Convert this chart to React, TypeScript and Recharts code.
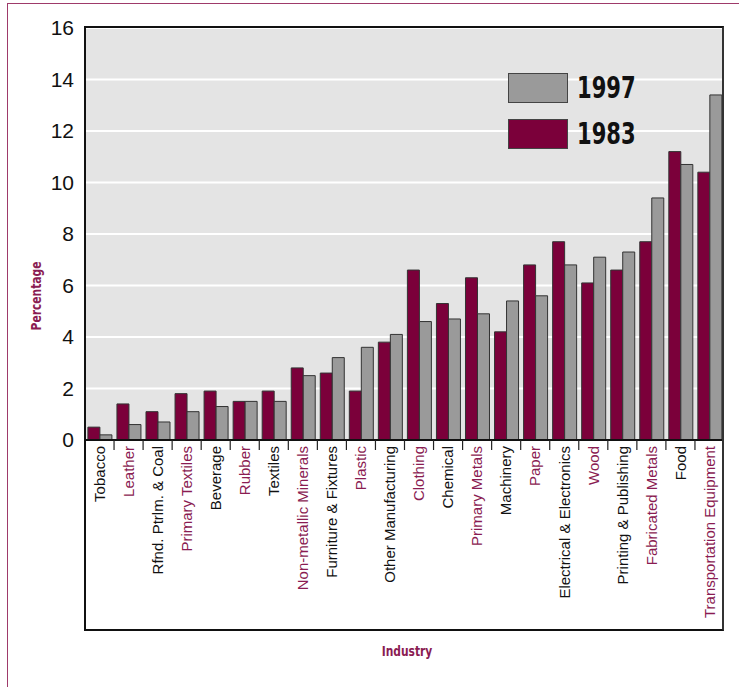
import { BarChart, Bar, XAxis, YAxis, CartesianGrid, Label } from "recharts"

const industries = [
  "Tobacco", "Leather", "Rfnd. Ptrlm. & Coal", "Primary Textiles", "Beverage", "Rubber",
  "Textiles", "Non-metallic Minerals", "Furniture & Fixtures", "Plastic", "Other Manufacturing",
  "Clothing", "Chemical", "Primary Metals", "Machinery", "Paper", "Electrical & Electronics",
  "Wood", "Printing & Publishing", "Fabricated Metals", "Food", "Transportation Equipment",
]
const share1983 = [0.5, 1.4, 1.1, 1.8, 1.9, 1.5, 1.9, 2.8, 2.6, 1.9, 3.8, 6.6, 5.3, 6.3, 4.2, 6.8, 7.7, 6.1, 6.6, 7.7, 11.2, 10.4]
const share1997 = [0.2, 0.6, 0.7, 1.1, 1.3, 1.5, 1.5, 2.5, 3.2, 3.6, 4.1, 4.6, 4.7, 4.9, 5.4, 5.6, 6.8, 7.1, 7.3, 9.4, 10.7, 13.4]
const yTicks = [0, 2, 4, 6, 8, 10, 12, 14, 16]

const data = industries.map((name, i) => ({ name, y1983: share1983[i], y1997: share1997[i] }))

const MAROON = "#7b003a"
const LABEL_MAROON = "#8a1c52"
const GREY = "#9a9a9a"
const narrow = "'DejaVu Sans Condensed', 'DejaVu Sans', sans-serif"
const sans = "'Liberation Sans', Arial, sans-serif"

function XTick(props: any) {
  const { x, y, payload, index } = props
  const off = payload.offset ?? 0
  const ty = y + 6
  return (
    <g>
      {index > 0 && <line x1={x - off} x2={x - off} y1={y} y2={y + 10} stroke="#222" strokeWidth={1.2} />}
      <text
        x={x}
        y={ty}
        transform={`rotate(-90 ${x} ${ty})`}
        textAnchor="end"
        dy="0.35em"
        fontSize={15}
        fontFamily={sans}
        fill={index % 2 === 1 ? LABEL_MAROON : "#111"}
      >
        {payload.value}
      </text>
    </g>
  )
}

const legendItems = [
  { label: "1997", color: GREY },
  { label: "1983", color: MAROON },
]

function LegendBox() {
  return (
    <div style={{ position: "absolute", left: 508, top: 72 }}>
      {legendItems.map(it => (
        <div key={it.label} style={{ display: "flex", alignItems: "center", marginBottom: 15, height: 31 }}>
          <div style={{ width: 58, height: 28, background: it.color, border: "1.5px solid #444" }} />
          <span style={{ marginLeft: 9, fontFamily: narrow, fontWeight: 700, fontSize: 30, color: "#111", display: "inline-block", transform: "scaleX(0.78)", transformOrigin: "left center" }}>{it.label}</span>
        </div>
      ))}
    </div>
  )
}

export default function App() {
  return (
    <div style={{ position: "absolute", left: 0, top: 0, width: 739, height: 687, background: "#fff", overflow: "hidden" }}>
      <div style={{ position: "absolute", left: 7, top: 3, width: 760, height: 720, borderLeft: "1.5px solid #9e3a6a", borderTop: "1.5px solid #9e3a6a" }} />
      <BarChart
        width={739}
        height={687}
        data={data}
        margin={{ top: 28, right: 15, bottom: 0, left: 0 }}
        barCategoryGap="10%"
        barGap={0}
      >
        <CartesianGrid vertical={false} stroke="#ffffff" strokeWidth={2} fill="#e4e4e4" />
        <XAxis
          dataKey="name"
          interval={0}
          height={247}
          tickLine={false}
          tickSize={0}
          tickMargin={0}
          axisLine={{ stroke: "#111", strokeWidth: 2 }}
          tick={<XTick />}
        >
          <Label
            content={() => (
              <text x={407} y={656} textAnchor="middle" fontFamily={narrow} fontWeight={700} fontSize={14} fill={LABEL_MAROON} transform="translate(407 0) scale(0.85 1) translate(-407 0)">
                Industry
              </text>
            )}
          />
        </XAxis>
        <YAxis
          width={85}
          domain={[0, 16]}
          ticks={yTicks}
          interval={0}
          tickLine={false}
          tickSize={0}
          tickMargin={11}
          axisLine={{ stroke: "#111", strokeWidth: 2 }}
          tick={{ fontSize: 21, fill: "#111", fontFamily: sans }}
        >
          <Label
            content={() => (
              <text x={41} y={296} transform="rotate(-90 41 296) translate(41 0) scale(0.85 1) translate(-41 0)" textAnchor="middle" fontFamily={narrow} fontWeight={700} fontSize={14} fill={LABEL_MAROON}>
                Percentage
              </text>
            )}
          />
        </YAxis>
        <Bar dataKey="y1983" name="1983" fill={MAROON} stroke="#333" strokeWidth={1} isAnimationActive={false} />
        <Bar dataKey="y1997" name="1997" fill={GREY} stroke="#333" strokeWidth={1} isAnimationActive={false} />
      </BarChart>
      <LegendBox />
      <div style={{ position: "absolute", left: 84, top: 26, width: 640, height: 605, borderLeft: "2px solid #111", borderTop: "2px solid #111", borderRight: "2px solid #333", borderBottom: "2px solid #111", boxSizing: "border-box", pointerEvents: "none" }} />
    </div>
  )
}
